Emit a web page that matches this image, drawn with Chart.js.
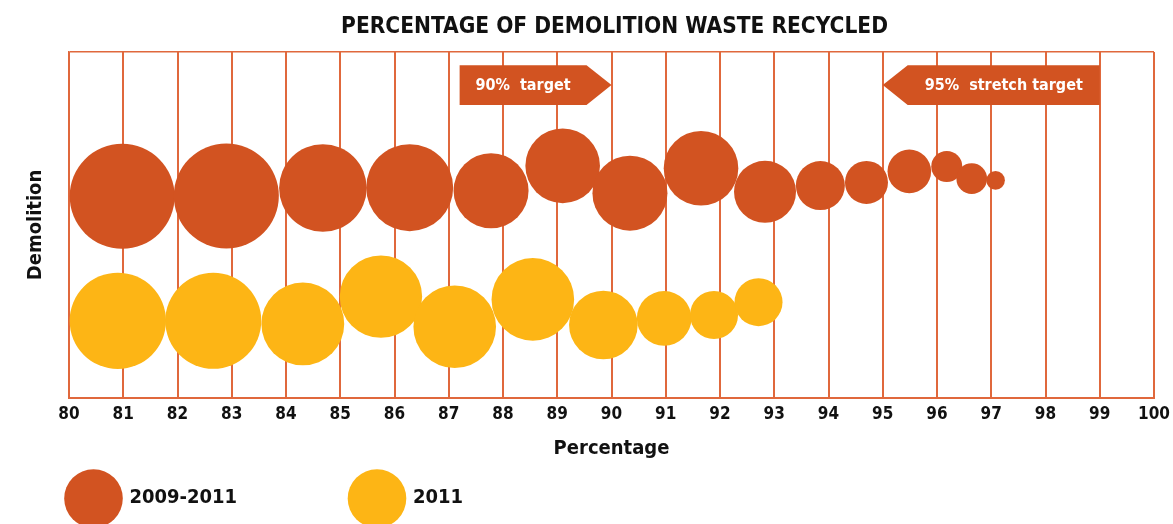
<!DOCTYPE html>
<html>
<head>
<meta charset="utf-8">
<script src="https://cdn.jsdelivr.net/npm/chart.js@4"></script>
<style>
  html, body { margin: 0; padding: 0; background: #fff; }
  canvas { display: block; }
</style>
</head>
<body>
<canvas id="wasteChart" width="1173" height="524"></canvas>
<script>
// values
const seriesLabels = ["2009-2011", "2011"];

const periodX = [80.98, 82.90, 84.68, 86.28, 87.78, 89.10, 90.34, 91.65, 92.83, 93.85, 94.70, 95.49, 96.18, 96.64, 97.08];
const periodY = [58.3, 58.4, 60.7, 60.8, 59.9, 67.1, 59.2, 66.4, 59.6, 61.4, 62.3, 65.5, 66.9, 63.4, 62.9];
const periodR = [52.5, 52.5, 43.8, 43.5, 37.5, 37.3, 37.5, 37.3, 31, 24.5, 21.5, 21.8, 15.5, 15.3, 9.3];

const yearX = [80.90, 82.66, 84.31, 85.75, 87.11, 88.55, 89.85, 90.97, 91.89, 92.71];
const yearY = [22.3, 22.3, 21.4, 29.3, 20.6, 28.5, 21.1, 23.0, 24.0, 27.7];
const yearR = [48.2, 48, 41.4, 41.2, 41.3, 41.3, 34.3, 27.3, 24, 24];

const xTicks = [80, 81, 82, 83, 84, 85, 86, 87, 88, 89, 90, 91, 92, 93, 94, 95, 96, 97, 98, 99, 100];

const targetLabels = ["90%  target", "95%  stretch target"];
const targetFrom = [87.2, 95];
const targetTo = [90, 99];
const targetPoint = ["right", "left"];

const ORANGE = "#d25321";
const YELLOW = "#fdb515";
const GRID = "#e0683c";
const FONT = "'DejaVu Sans Condensed', 'DejaVu Sans', sans-serif";

function toPoints(xs, ys, rs) {
    return xs.map((x, i) => ({ x: x, y: ys[i], r: rs[i] }));
}

// arrow shaped target boxes, placed through the scales
const targetBoxes = {
    id: "targetBoxes",
    beforeDatasetsDraw(chart) {
        const { ctx, scales: { x, y } } = chart;
        const top = y.getPixelForValue(96.2);
        const bottom = y.getPixelForValue(84.7);
        const mid = (top + bottom) / 2;
        const depth = x.getPixelForValue(80.46) - x.getPixelForValue(80);
        ctx.save();
        targetLabels.forEach((label, i) => {
            const x0 = x.getPixelForValue(targetFrom[i]);
            const x1 = x.getPixelForValue(targetTo[i]);
            ctx.beginPath();
            let rectL, rectR;
            if (targetPoint[i] === "right") {
                ctx.moveTo(x0, top);
                ctx.lineTo(x1 - depth, top);
                ctx.lineTo(x1, mid);
                ctx.lineTo(x1 - depth, bottom);
                ctx.lineTo(x0, bottom);
                rectL = x0; rectR = x1 - depth;
            } else {
                ctx.moveTo(x0, mid);
                ctx.lineTo(x0 + depth, top);
                ctx.lineTo(x1, top);
                ctx.lineTo(x1, bottom);
                ctx.lineTo(x0 + depth, bottom);
                rectL = x0 + depth; rectR = x1;
            }
            ctx.closePath();
            ctx.fillStyle = ORANGE;
            ctx.fill();
            ctx.fillStyle = "#fff";
            ctx.font = "bold 16px " + FONT;
            ctx.textAlign = "center";
            ctx.textBaseline = "middle";
            ctx.fillText(label, (rectL + rectR) / 2, mid + 1);
        });
        ctx.restore();
    }
};

// big round legend under the axis
const roundLegend = {
    id: "roundLegend",
    afterDraw(chart) {
        const { ctx, chartArea } = chart;
        const offsets = [24.5, 308];
        const cy = 498.5;
        ctx.save();
        chart.data.datasets.forEach((ds, i) => {
            const cx = chartArea.left + offsets[i];
            ctx.beginPath();
            ctx.arc(cx, cy, 29.3, 0, Math.PI * 2);
            ctx.fillStyle = ds.backgroundColor;
            ctx.fill();
            ctx.fillStyle = "#111";
            ctx.font = "bold 20px " + FONT;
            ctx.textAlign = "left";
            ctx.textBaseline = "middle";
            ctx.fillText(ds.label, cx + 36, cy - 1);
        });
        ctx.restore();
    }
};

const ctx = document.getElementById("wasteChart");

new Chart(ctx, {
    type: "bubble",
    data: {
        datasets: [
            {
                label: seriesLabels[0],
                data: toPoints(periodX, periodY, periodR),
                backgroundColor: ORANGE,
                borderWidth: 0,
                hoverRadius: 0,
            },
            {
                label: seriesLabels[1],
                data: toPoints(yearX, yearY, yearR),
                backgroundColor: YELLOW,
                borderWidth: 0,
                hoverRadius: 0,
            },
        ],
    },
    options: {
        responsive: false,
        animation: false,
        events: [],
        layout: {
            autoPadding: false,
            padding: { left: 56, right: 0, top: 12, bottom: 56 },
        },
        plugins: {
            legend: { display: false },
            tooltip: { enabled: false },
            title: {
                display: true,
                text: "PERCENTAGE OF DEMOLITION WASTE RECYCLED",
                color: "#111",
                font: { family: FONT, size: 22.5, weight: "bold", lineHeight: 1.2 },
                padding: { top: 2, bottom: 11 },
            },
        },
        scales: {
            x: {
                type: "linear",
                min: 80,
                max: 100,
                afterBuildTicks: (scale) => {
                    scale.ticks = xTicks.map(v => ({ value: v }));
                },
                afterFit: (scale) => {
                    scale.height = 70;
                    scale.paddingLeft = 0;
                    scale.paddingRight = 19;
                },
                grid: {
                    color: GRID,
                    lineWidth: 2,
                    drawTicks: false,
                },
                border: { display: true, color: GRID, width: 2 },
                ticks: {
                    color: "#111",
                    padding: 6,
                    maxRotation: 0,
                    autoSkip: false,
                    font: { family: FONT, size: 17, weight: "bold" },
                },
                title: {
                    display: true,
                    text: "Percentage",
                    color: "#111",
                    font: { family: FONT, size: 20, weight: "bold", lineHeight: 1.2 },
                    padding: { top: 0, bottom: 7 },
                },
            },
            y: {
                type: "linear",
                min: 0,
                max: 100,
                afterBuildTicks: (scale) => {
                    scale.ticks = [{ value: 0 }, { value: 100 }];
                },
                afterFit: (scale) => {
                    scale.width = 13;
                },
                grid: {
                    color: GRID,
                    lineWidth: 1.5,
                    drawTicks: false,
                },
                border: { display: true, color: GRID, width: 1.5 },
                ticks: { display: false },
                title: {
                    display: true,
                    text: "Demolition",
                    color: "#111",
                    font: { family: FONT, size: 20, weight: "bold", lineHeight: 1.2 },
                    padding: { top: -32, bottom: 0 },
                },
            },
        },
    },
    plugins: [targetBoxes, roundLegend],
});
</script>
</body>
</html>
